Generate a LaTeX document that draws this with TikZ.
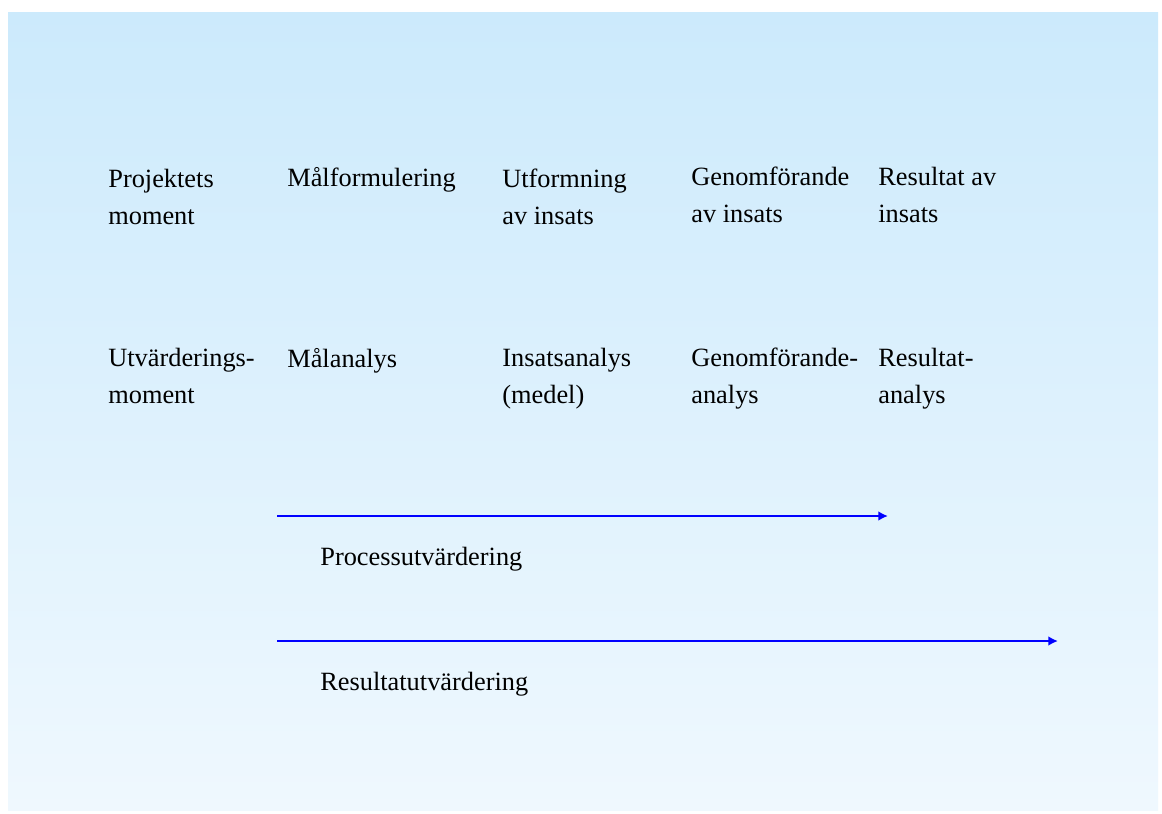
\documentclass[tikz,border=0pt]{standalone}
\usepackage{fontspec}
\setmainfont{Liberation Serif}
\usepackage{xcolor}
\usetikzlibrary{positioning,arrows.meta}

\definecolor{skytop}{RGB}{204,234,252}
\definecolor{skybottom}{RGB}{239,248,254}
\definecolor{arrowblue}{RGB}{0,0,255}

\begin{document}
\begin{tikzpicture}[x=0.02cm,y=-0.02cm,
    txt/.style={anchor=base west,inner sep=0pt,align=left,
      font=\fontsize{15}{21}\selectfont},
    flow/.style={draw=arrowblue,line width=1.5pt,-{Latex[length=5.5pt,width=5.5pt]}}]
  \path[use as bounding box,fill=white] (0,0) rectangle (1162,814);
  \shade[top color=skytop,bottom color=skybottom] (8,13) rectangle (1158,810);
  % projektets moment (base = last line)
  \node[txt] (projmom) at (108,224) {Projektets\\moment};
  \node[txt] (malform) at (287,187) {Målformulering};
  \node[txt] (utform) at (502,224) {Utformning\\av insats};
  \node[txt] (genomf) at (691,222) {Genomförande\\av insats};
  \node[txt] (resultat) at (878,222) {Resultat av\\insats};
  % utvarderingsmoment
  \node[txt] (utvmom) at (108,403) {Utvärderings-\\moment};
  \node[txt] (malanalys) at (287,367) {Målanalys};
  \node[txt] (insanalys) at (502,403) {Insatsanalys\\(medel)};
  \node[txt] (genanalys) at (691,403) {Genomförande-\\analys};
  \node[txt] (resanalys) at (878,403) {Resultat-\\analys};
  % pilar
  \coordinate (procstart) at (277,516);
  \coordinate (procend) at (888,516);
  \draw[flow] (procstart) -- (procend);
  \node[txt] (processlbl) at (320,565) {Processutvärdering};
  \coordinate (resstart) at (277,641);
  \coordinate (resend) at (1058,641);
  \draw[flow] (resstart) -- (resend);
  \node[txt] (resultatlbl) at (320,690) {Resultatutvärdering};
\end{tikzpicture}
\end{document}
